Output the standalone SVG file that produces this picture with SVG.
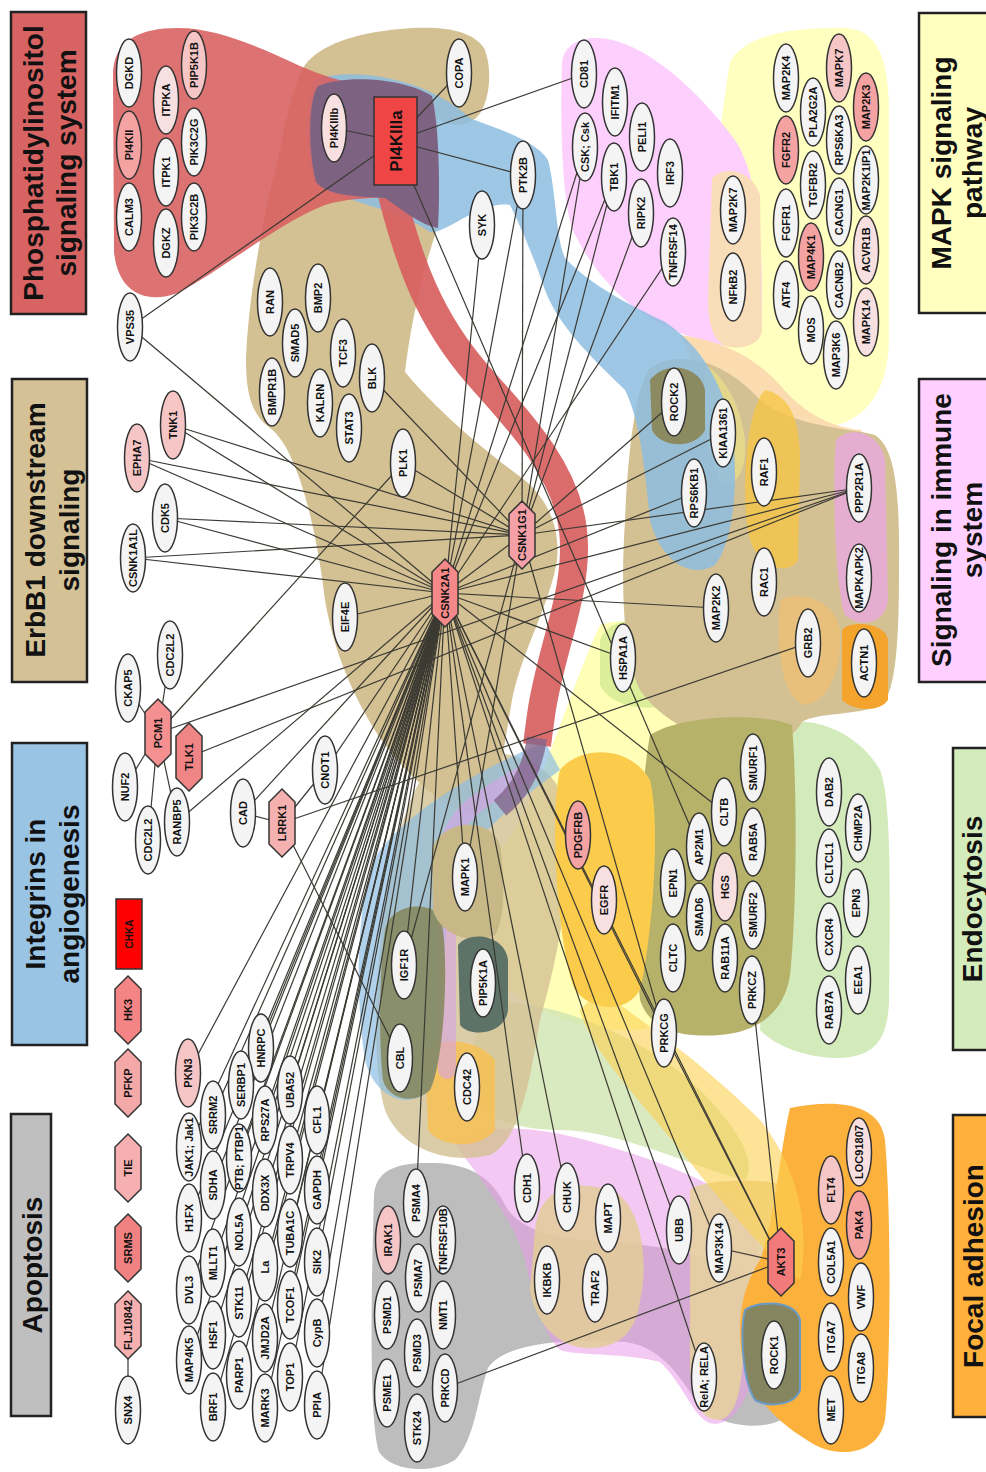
<svg xmlns="http://www.w3.org/2000/svg" width="986" height="1472" viewBox="0 0 986 1472">
<style>
.n{fill:#f4f4f4;stroke:#333;stroke-width:1.5}
.pa{fill:#f8e0e0}.pb{fill:#f6c6c6}.pc{fill:#f5a2a2}.pd{fill:#f28585}.pr{fill:#f04545}.px{fill:#ff0000}
.t{font-family:"Liberation Sans",Arial,sans-serif;font-size:11px;font-weight:bold;fill:#111;text-anchor:middle}
.ttl{font-family:"Liberation Sans",Arial,sans-serif;font-size:28px;font-weight:bold;fill:#111;text-anchor:middle}
.box{stroke:#222;stroke-width:2.5}
.e line{stroke:#3b3a33;stroke-width:1.2}
</style>
<defs>
<polygon id="hex" points="0,-34 13,-21 13,21 0,34 -13,21 -13,-21"/>
</defs>
<rect width="986" height="1472" fill="#fff"/>

<!-- pathway hulls -->
<g id="hulls">
<path d="M374,1195 C376,1168 400,1162 435,1163 C470,1164 492,1178 505,1205 C520,1232 560,1240 610,1242 C670,1245 745,1262 780,1300 C800,1330 798,1400 785,1418 C765,1430 730,1428 705,1412 C685,1390 670,1348 625,1342 C570,1338 505,1342 488,1368 C478,1395 475,1440 455,1460 C432,1474 392,1472 379,1452 C369,1420 371,1300 374,1195 Z" fill="#bdbdbd"/>
<path d="M730,62 C745,35 790,27 845,28 C878,30 888,58 889,110 L889,340 C888,395 862,425 820,428 C775,430 735,405 718,360 C705,310 708,200 730,62 Z" fill="#ffffc0"/>
<path d="M562,62 C565,38 595,32 625,44 C665,60 705,100 735,140 C756,172 762,230 762,300 C762,335 752,348 728,346 C698,342 668,330 640,312 C608,288 585,258 572,228 C562,200 560,120 562,62 Z" fill="#fdcffd"/>
<path d="M712,178 C725,165 752,170 760,195 L762,330 C760,346 740,350 725,346 C712,340 708,320 708,300 Z" fill="#f9dcb8"/>
<path d="M680,335 C715,340 750,352 780,385 C800,410 830,428 862,430 L860,445 C820,450 780,440 750,420 C720,400 695,375 680,335 Z" fill="#fbdcb0"/>
<path d="M455,1145 C470,1125 520,1125 565,1135 C630,1150 700,1175 735,1200 C760,1225 765,1280 762,1320 C758,1380 742,1422 715,1424 C695,1424 685,1385 660,1362 C620,1352 575,1356 560,1350 C540,1330 532,1290 525,1260 C515,1225 490,1190 455,1145 Z" fill="#e99de9" fill-opacity="0.55"/>
<path d="M600,625 C640,610 700,640 745,700 L700,1000 C640,1060 540,1020 490,975 C462,945 468,890 500,850 C540,800 565,700 600,625 Z" fill="#ffffb8"/>
<path d="M600,640 C610,615 645,618 665,630 L668,705 C640,712 610,705 600,685 Z" fill="#dcee9a"/>
<path d="M790,722 C820,718 860,735 880,770 C892,800 890,900 889,1000 C888,1045 870,1058 835,1058 C800,1056 775,1045 760,1030 L770,760 Z" fill="#d3eabb"/>
<path d="M480,1000 C560,1000 650,1040 700,1090 C730,1120 760,1160 745,1180 C700,1170 620,1130 560,1130 C520,1130 480,1120 470,1090 Z" fill="#cfe3b0" fill-opacity="0.8"/>
<path d="M305,65 C320,45 355,33 400,29 C442,25 472,30 484,48 C493,68 490,102 478,116 C466,128 446,127 438,118 L436,232 C420,280 410,330 405,372 C428,400 470,440 522,478 C550,500 560,530 557,560 C550,605 522,650 512,700 C505,740 500,780 490,810 C470,830 420,790 385,745 C360,710 335,660 325,600 C318,540 300,450 270,428 C252,415 246,395 246,360 C248,300 262,220 280,150 C288,110 295,80 305,65 Z" fill="#d3c093"/>
<path d="M648,370 C670,350 720,355 760,400 C795,428 850,428 875,435 C895,448 900,490 899,570 C899,640 896,690 882,705 C855,716 818,712 802,722 C792,740 770,750 740,745 C700,740 660,720 640,690 C625,660 620,600 625,520 C628,450 635,395 648,370 Z" fill="#d3c093"/>
<path d="M836,440 C850,425 880,432 885,460 L888,600 C885,625 860,628 845,615 C835,590 832,480 836,440 Z" fill="#e5aed0"/>
<path d="M765,390 C790,395 800,420 800,460 L798,560 C790,575 760,570 750,540 C740,500 745,410 765,390 Z" fill="#f7c543" fill-opacity="0.75"/>
<path d="M705,365 C720,372 740,400 745,440 C748,470 735,490 720,480 C708,460 702,420 705,365 Z" fill="#e8dc8a" fill-opacity="0.8"/>
<path d="M780,600 C800,590 835,600 840,630 C842,670 830,700 805,705 C785,700 775,660 780,600 Z" fill="#f6c06c" fill-opacity="0.6"/>
<path d="M440,760 C480,745 540,750 560,790 C580,850 560,950 540,1020 C530,1080 520,1140 490,1155 C450,1165 400,1150 385,1110 C370,1060 375,950 390,880 C400,820 415,775 440,760 Z" fill="#d3c093" fill-opacity="0.8"/>
<path d="M650,735 C680,715 760,712 792,725 C798,800 796,920 790,975 C785,1010 760,1032 720,1035 C680,1038 650,1030 640,1000 C635,950 638,800 650,735 Z" fill="#b7b26a"/>
<path d="M535,1230 C540,1185 575,1180 610,1190 C640,1200 650,1260 640,1300 C637,1330 620,1348 590,1348 C555,1348 535,1320 530,1290 Z" fill="#e3cd98" fill-opacity="0.85"/>
<path d="M690,1190 C700,1178 790,1175 800,1195 C808,1240 805,1290 790,1305 C770,1315 750,1310 745,1330 C742,1380 740,1415 720,1420 C700,1420 692,1400 690,1370 Z" fill="#e6cfa0" fill-opacity="0.9"/>
<path d="M790,1108 C830,1100 880,1100 885,1140 C892,1220 890,1380 885,1420 C878,1455 840,1458 815,1445 C790,1430 760,1410 745,1370 C735,1330 740,1290 760,1260 C775,1220 780,1150 790,1108 Z" fill="#fdb13d"/>
<path d="M560,770 C580,745 630,745 650,780 C662,830 650,950 640,990 C625,1015 590,1010 575,990 C560,960 548,820 560,770 Z" fill="#fbcc4c"/>
<path d="M600,990 C640,1020 700,1060 760,1120 C800,1170 810,1230 800,1280 C770,1260 720,1200 680,1150 C640,1100 590,1050 580,1010 Z" fill="#fcd050" fill-opacity="0.6"/>
<path d="M842,630 C850,620 885,622 888,640 L888,700 C880,712 855,712 842,700 Z" fill="#f4a42c"/>
<path d="M425,1050 C440,1035 480,1040 495,1060 L495,1130 C480,1150 440,1148 428,1130 Z" fill="#f9c150" fill-opacity="0.8"/>
<path d="M315,80 C340,68 420,72 470,118 C500,130 535,140 548,160 C556,190 556,240 565,258 C590,285 630,305 665,322 C700,345 720,380 730,420 C740,470 735,540 715,565 C690,580 660,560 650,520 C645,470 640,420 625,390 C600,365 560,330 545,290 C535,260 520,225 510,205 C480,200 445,235 430,232 C400,210 340,200 316,185 C305,160 305,100 315,80 Z" fill="#8dbde2" fill-opacity="0.85"/>
<path d="M545,742 C500,760 420,800 380,850 C355,890 355,1000 365,1060 C375,1100 410,1110 430,1090 C445,1060 440,960 450,900 C460,840 520,800 560,770 Z" fill="#8dbde2" fill-opacity="0.7"/>
<path d="M530,770 C500,790 455,805 447,850 L447,1070" fill="none" stroke="#d9a3e6" stroke-width="18" stroke-opacity="0.6" stroke-linecap="round"/>
<path d="M385,930 C390,905 425,900 440,915 C450,950 445,1060 430,1090 C415,1105 388,1100 383,1080 C378,1040 380,960 385,930 Z" fill="#878a5f" fill-opacity="0.9"/>
<path d="M432,850 C440,820 490,815 500,845 C505,880 505,920 495,935 C470,945 440,935 433,910 Z" fill="#c8b887"/>
<path d="M458,945 C470,930 505,935 508,960 L508,1010 C505,1035 470,1038 460,1025 Z" fill="#5e7367"/>
<path d="M650,380 C665,360 700,365 705,390 L705,430 C695,450 660,448 652,430 Z" fill="#8c8a60"/>
<path d="M745,1310 C760,1300 795,1300 800,1320 L800,1390 C795,1405 770,1408 755,1400 C742,1380 740,1330 745,1310 Z" fill="#858560" stroke="#6a9ac8" stroke-width="2"/>
<path d="M113,75 C113,40 140,28 178,28 C215,28 255,45 300,66 C345,86 400,92 432,108 L436,190 C400,200 355,195 325,205 C280,222 225,268 178,293 C145,305 118,292 114,252 Z" fill="#d85f5f" fill-opacity="0.88"/>
<path d="M392,195 C410,265 430,320 478,375 C520,422 566,470 573,530 C580,590 550,650 541,715 C539,730 538,738 537,745" fill="none" stroke="#d85f5f" stroke-width="28" stroke-opacity="0.92"/>
<path d="M537,738 C533,765 522,790 500,808" fill="none" stroke="#84658c" stroke-width="20" stroke-opacity="0.8"/>
<path d="M318,86 C345,74 405,78 432,96 C440,130 440,200 438,228 C420,225 400,208 385,198 C355,196 328,196 316,182 C308,150 308,100 318,86 Z" fill="#7e6282"/>
</g>

<!-- connectors -->
<g id="edges" class="e">
<line x1="395" y1="141" x2="334" y2="128"/>
<line x1="395" y1="141" x2="459" y2="73"/>
<line x1="395" y1="141" x2="584" y2="74"/>
<line x1="395" y1="141" x2="523" y2="175"/>
<line x1="395" y1="141" x2="130" y2="327"/>
<line x1="395" y1="141" x2="699" y2="847"/>
<line x1="130" y1="327" x2="445" y2="593"/>
<line x1="482" y1="225" x2="445" y2="593"/>
<line x1="523" y1="175" x2="522" y2="535"/>
<line x1="523" y1="175" x2="445" y2="593"/>
<line x1="585" y1="147" x2="522" y2="535"/>
<line x1="585" y1="147" x2="445" y2="593"/>
<line x1="614" y1="177" x2="522" y2="535"/>
<line x1="614" y1="177" x2="445" y2="593"/>
<line x1="641" y1="213" x2="522" y2="535"/>
<line x1="673" y1="252" x2="445" y2="593"/>
<line x1="372" y1="378" x2="522" y2="535"/>
<line x1="403" y1="463" x2="522" y2="535"/>
<line x1="173" y1="425" x2="522" y2="535"/>
<line x1="173" y1="425" x2="445" y2="593"/>
<line x1="137" y1="458" x2="522" y2="535"/>
<line x1="137" y1="458" x2="445" y2="593"/>
<line x1="165" y1="518" x2="522" y2="535"/>
<line x1="165" y1="518" x2="445" y2="593"/>
<line x1="133" y1="558" x2="522" y2="535"/>
<line x1="133" y1="558" x2="445" y2="593"/>
<line x1="345" y1="617" x2="445" y2="593"/>
<line x1="522" y1="535" x2="445" y2="593"/>
<line x1="674" y1="402" x2="522" y2="535"/>
<line x1="723" y1="433" x2="522" y2="535"/>
<line x1="694" y1="493" x2="445" y2="593"/>
<line x1="859" y1="488" x2="522" y2="535"/>
<line x1="859" y1="488" x2="445" y2="593"/>
<line x1="859" y1="488" x2="158" y2="733"/>
<line x1="859" y1="488" x2="189" y2="757"/>
<line x1="716" y1="608" x2="445" y2="593"/>
<line x1="623" y1="658" x2="445" y2="593"/>
<line x1="808" y1="643" x2="282" y2="823"/>
<line x1="158" y1="733" x2="128" y2="688"/>
<line x1="158" y1="733" x2="170" y2="655"/>
<line x1="158" y1="733" x2="125" y2="787"/>
<line x1="158" y1="733" x2="148" y2="840"/>
<line x1="158" y1="733" x2="177" y2="822"/>
<line x1="158" y1="733" x2="403" y2="463"/>
<line x1="177" y1="822" x2="445" y2="593"/>
<line x1="243" y1="813" x2="445" y2="593"/>
<line x1="243" y1="813" x2="282" y2="823"/>
<line x1="325" y1="770" x2="282" y2="823"/>
<line x1="325" y1="770" x2="445" y2="593"/>
<line x1="282" y1="823" x2="400" y2="1058"/>
<line x1="465" y1="877" x2="522" y2="535"/>
<line x1="465" y1="877" x2="445" y2="593"/>
<line x1="404" y1="965" x2="522" y2="535"/>
<line x1="404" y1="965" x2="445" y2="593"/>
<line x1="724" y1="812" x2="445" y2="593"/>
<line x1="664" y1="1033" x2="522" y2="535"/>
<line x1="664" y1="1033" x2="445" y2="593"/>
<line x1="416" y1="1203" x2="445" y2="593"/>
<line x1="527" y1="1188" x2="445" y2="593"/>
<line x1="567" y1="1197" x2="445" y2="593"/>
<line x1="679" y1="1230" x2="445" y2="593"/>
<line x1="719" y1="1248" x2="445" y2="593"/>
<line x1="704" y1="1377" x2="445" y2="593"/>
<line x1="781" y1="1262" x2="445" y2="593"/>
<line x1="781" y1="1262" x2="752" y2="990"/>
<line x1="781" y1="1262" x2="664" y2="1033"/>
<line x1="781" y1="1262" x2="719" y2="1248"/>
<line x1="781" y1="1262" x2="445" y2="1388"/>
<line x1="128" y1="1325" x2="128" y2="1410"/>
<line x1="188" y1="1073" x2="445" y2="593"/>
<line x1="261" y1="1048" x2="445" y2="593"/>
<line x1="241" y1="1085" x2="445" y2="593"/>
<line x1="213" y1="1115" x2="445" y2="593"/>
<line x1="265" y1="1120" x2="445" y2="593"/>
<line x1="290" y1="1090" x2="445" y2="593"/>
<line x1="317" y1="1120" x2="445" y2="593"/>
<line x1="189" y1="1147" x2="445" y2="593"/>
<line x1="239" y1="1158" x2="445" y2="593"/>
<line x1="213" y1="1185" x2="445" y2="593"/>
<line x1="265" y1="1193" x2="445" y2="593"/>
<line x1="290" y1="1160" x2="445" y2="593"/>
<line x1="317" y1="1190" x2="445" y2="593"/>
<line x1="189" y1="1218" x2="445" y2="593"/>
<line x1="239" y1="1232" x2="445" y2="593"/>
<line x1="213" y1="1263" x2="445" y2="593"/>
<line x1="265" y1="1267" x2="445" y2="593"/>
<line x1="290" y1="1233" x2="445" y2="593"/>
<line x1="317" y1="1262" x2="445" y2="593"/>
<line x1="189" y1="1290" x2="445" y2="593"/>
<line x1="239" y1="1303" x2="445" y2="593"/>
<line x1="213" y1="1335" x2="445" y2="593"/>
<line x1="265" y1="1338" x2="445" y2="593"/>
<line x1="290" y1="1305" x2="445" y2="593"/>
<line x1="317" y1="1333" x2="445" y2="593"/>
<line x1="189" y1="1360" x2="445" y2="593"/>
<line x1="239" y1="1375" x2="445" y2="593"/>
<line x1="213" y1="1407" x2="445" y2="593"/>
<line x1="265" y1="1408" x2="445" y2="593"/>
<line x1="290" y1="1377" x2="445" y2="593"/>
<line x1="317" y1="1405" x2="445" y2="593"/>
</g>

<!-- pathway title boxes -->
<g id="titles">
<g id="ttl-pi"><rect class="box" x="11" y="12" width="75" height="302" fill="#d86363"/><text class="ttl" transform="translate(48.5,163) rotate(-90)" y="-6">Phosphatidylinositol</text><text class="ttl" transform="translate(48.5,163) rotate(-90)" y="27">signaling system</text></g>
<g id="ttl-erbb"><rect class="box" x="12" y="379" width="75" height="303" fill="#d4c196"/><text class="ttl" transform="translate(49.5,530) rotate(-90)" y="-5">ErbB1 downstream</text><text class="ttl" transform="translate(49.5,530) rotate(-90)" y="29">signaling</text></g>
<g id="ttl-int"><rect class="box" x="12" y="743" width="75" height="302" fill="#99c4e4"/><text class="ttl" transform="translate(49.5,894) rotate(-90)" y="-5">Integrins in</text><text class="ttl" transform="translate(49.5,894) rotate(-90)" y="29">angiogenesis</text></g>
<g id="ttl-apo"><rect class="box" x="11" y="1114" width="40" height="302" fill="#bfbfbf"/><text class="ttl" transform="translate(31,1265) rotate(-90)" y="11">Apoptosis</text></g>
<g id="ttl-mapk"><rect class="box" x="919" y="13" width="76" height="300" fill="#ffffc0"/><text class="ttl" transform="translate(956.5,163) rotate(-90)" y="-6">MAPK signaling</text><text class="ttl" transform="translate(956.5,163) rotate(-90)" y="25">pathway</text></g>
<g id="ttl-imm"><rect class="box" x="919" y="379" width="76" height="303" fill="#ffd0ff"/><text class="ttl" transform="translate(956.5,530) rotate(-90)" y="-6">Signaling in immune</text><text class="ttl" transform="translate(956.5,530) rotate(-90)" y="25">system</text></g>
<g id="ttl-endo"><rect class="box" x="953" y="748" width="42" height="302" fill="#d4ebbc"/><text class="ttl" transform="translate(973.5,899) rotate(-90)" y="8">Endocytosis</text></g>
<g id="ttl-fa"><rect class="box" x="953" y="1115" width="42" height="302" fill="#ffb13c"/><text class="ttl" transform="translate(973.5,1266) rotate(-90)" y="9">Focal adhesion</text></g>
</g>

<!-- nodes -->
<g id="nodes">
<g id="n-DGKD" transform="translate(129,73)"><ellipse class="n" rx="12.5" ry="34"/><text class="t" transform="rotate(-90)" y="4">DGKD</text></g>
<g id="n-PI4KII" transform="translate(129,145)"><ellipse class="n pc" rx="12.5" ry="34"/><text class="t" transform="rotate(-90)" y="4">PI4KII</text></g>
<g id="n-CALM3" transform="translate(129,217)"><ellipse class="n" rx="12.5" ry="34"/><text class="t" transform="rotate(-90)" y="4">CALM3</text></g>
<g id="n-ITPKA" transform="translate(166,100)"><ellipse class="n pa" rx="12.5" ry="34"/><text class="t" transform="rotate(-90)" y="4">ITPKA</text></g>
<g id="n-ITPK1" transform="translate(166,172)"><ellipse class="n" rx="12.5" ry="34"/><text class="t" transform="rotate(-90)" y="4">ITPK1</text></g>
<g id="n-DGKZ" transform="translate(166,243)"><ellipse class="n" rx="12.5" ry="34"/><text class="t" transform="rotate(-90)" y="4">DGKZ</text></g>
<g id="n-PIP5K1B" transform="translate(194,65)"><ellipse class="n pb" rx="12.5" ry="34"/><text class="t" transform="rotate(-90)" y="4">PIP5K1B</text></g>
<g id="n-PIK3C2G" transform="translate(194,142)"><ellipse class="n" rx="12.5" ry="34"/><text class="t" transform="rotate(-90)" y="4">PIK3C2G</text></g>
<g id="n-PIK3C2B" transform="translate(194,217)"><ellipse class="n" rx="12.5" ry="34"/><text class="t" transform="rotate(-90)" y="4">PIK3C2B</text></g>
<g id="n-VPS35" transform="translate(130,327)"><ellipse class="n" rx="12.5" ry="34"/><text class="t" transform="rotate(-90)" y="4">VPS35</text></g>
<g id="n-PI4KIIIb" transform="translate(334,128)"><ellipse class="n pa" rx="12.5" ry="34"/><text class="t" transform="rotate(-90)" y="4">PI4KIIIb</text></g>
<g id="n-PI4KIIIa"><rect class="n pr" x="374" y="97" width="43" height="88"/><text class="t" transform="translate(395.5,141) rotate(-90)" y="6" style="font-size:17px">PI4KIIIa</text></g>
<g id="n-COPA" transform="translate(459,73)"><ellipse class="n" rx="12.5" ry="34"/><text class="t" transform="rotate(-90)" y="4">COPA</text></g>
<g id="n-CD81" transform="translate(584,74)"><ellipse class="n" rx="12.5" ry="34"/><text class="t" transform="rotate(-90)" y="4">CD81</text></g>
<g id="n-CSK" transform="translate(585,147)"><ellipse class="n" rx="12.5" ry="34"/><text class="t" transform="rotate(-90)" y="4">CSK; Csk</text></g>
<g id="n-IFITM1" transform="translate(615,102)"><ellipse class="n" rx="12.5" ry="34"/><text class="t" transform="rotate(-90)" y="4">IFITM1</text></g>
<g id="n-PELI1" transform="translate(642,137)"><ellipse class="n" rx="12.5" ry="34"/><text class="t" transform="rotate(-90)" y="4">PELI1</text></g>
<g id="n-TBK1" transform="translate(614,177)"><ellipse class="n" rx="12.5" ry="34"/><text class="t" transform="rotate(-90)" y="4">TBK1</text></g>
<g id="n-RIPK2" transform="translate(641,213)"><ellipse class="n" rx="12.5" ry="34"/><text class="t" transform="rotate(-90)" y="4">RIPK2</text></g>
<g id="n-IRF3" transform="translate(670,173)"><ellipse class="n" rx="12.5" ry="34"/><text class="t" transform="rotate(-90)" y="4">IRF3</text></g>
<g id="n-TNFRSF14" transform="translate(673,252)"><ellipse class="n" rx="12.5" ry="34"/><text class="t" transform="rotate(-90)" y="4">TNFRSF14</text></g>
<g id="n-SYK" transform="translate(482,225)"><ellipse class="n" rx="12.5" ry="34"/><text class="t" transform="rotate(-90)" y="4">SYK</text></g>
<g id="n-PTK2B" transform="translate(523,175)"><ellipse class="n" rx="12.5" ry="34"/><text class="t" transform="rotate(-90)" y="4">PTK2B</text></g>
<g id="n-MAP2K7" transform="translate(733,210)"><ellipse class="n" rx="12.5" ry="34"/><text class="t" transform="rotate(-90)" y="4">MAP2K7</text></g>
<g id="n-NFkB2" transform="translate(733,287)"><ellipse class="n" rx="12.5" ry="34"/><text class="t" transform="rotate(-90)" y="4">NFkB2</text></g>
<g id="n-MAP2K4" transform="translate(786,78)"><ellipse class="n" rx="12.5" ry="34"/><text class="t" transform="rotate(-90)" y="4">MAP2K4</text></g>
<g id="n-FGFR2" transform="translate(786,150)"><ellipse class="n pc" rx="12.5" ry="34"/><text class="t" transform="rotate(-90)" y="4">FGFR2</text></g>
<g id="n-FGFR1" transform="translate(786,223)"><ellipse class="n" rx="12.5" ry="34"/><text class="t" transform="rotate(-90)" y="4">FGFR1</text></g>
<g id="n-ATF4" transform="translate(786,295)"><ellipse class="n" rx="12.5" ry="34"/><text class="t" transform="rotate(-90)" y="4">ATF4</text></g>
<g id="n-PLA2G2A" transform="translate(813,112)"><ellipse class="n" rx="12.5" ry="34"/><text class="t" transform="rotate(-90)" y="4">PLA2G2A</text></g>
<g id="n-TGFBR2" transform="translate(813,185)"><ellipse class="n" rx="12.5" ry="34"/><text class="t" transform="rotate(-90)" y="4">TGFBR2</text></g>
<g id="n-MAP4K1" transform="translate(811,257)"><ellipse class="n pc" rx="12.5" ry="34"/><text class="t" transform="rotate(-90)" y="4">MAP4K1</text></g>
<g id="n-MOS" transform="translate(811,330)"><ellipse class="n" rx="12.5" ry="34"/><text class="t" transform="rotate(-90)" y="4">MOS</text></g>
<g id="n-MAPK7" transform="translate(839,68)"><ellipse class="n pb" rx="12.5" ry="34"/><text class="t" transform="rotate(-90)" y="4">MAPK7</text></g>
<g id="n-RPS6KA3" transform="translate(839,140)"><ellipse class="n" rx="12.5" ry="34"/><text class="t" transform="rotate(-90)" y="4">RPS6KA3</text></g>
<g id="n-CACNG1" transform="translate(839,212)"><ellipse class="n" rx="12.5" ry="34"/><text class="t" transform="rotate(-90)" y="4">CACNG1</text></g>
<g id="n-CACNB2" transform="translate(839,285)"><ellipse class="n" rx="12.5" ry="34"/><text class="t" transform="rotate(-90)" y="4">CACNB2</text></g>
<g id="n-MAP3K6" transform="translate(836,355)"><ellipse class="n" rx="12.5" ry="34"/><text class="t" transform="rotate(-90)" y="4">MAP3K6</text></g>
<g id="n-MAP2K3" transform="translate(866,107)"><ellipse class="n pc" rx="12.5" ry="34"/><text class="t" transform="rotate(-90)" y="4">MAP2K3</text></g>
<g id="n-MAP2K1IP1" transform="translate(866,180)"><ellipse class="n" rx="12.5" ry="34"/><text class="t" transform="rotate(-90)" y="4">MAP2K1IP1</text></g>
<g id="n-ACVR1B" transform="translate(866,250)"><ellipse class="n pa" rx="12.5" ry="34"/><text class="t" transform="rotate(-90)" y="4">ACVR1B</text></g>
<g id="n-MAPK14" transform="translate(866,322)"><ellipse class="n pa" rx="12.5" ry="34"/><text class="t" transform="rotate(-90)" y="4">MAPK14</text></g>
<g id="n-RAN" transform="translate(270,302)"><ellipse class="n" rx="12.5" ry="34"/><text class="t" transform="rotate(-90)" y="4">RAN</text></g>
<g id="n-BMP2" transform="translate(318,298)"><ellipse class="n" rx="12.5" ry="34"/><text class="t" transform="rotate(-90)" y="4">BMP2</text></g>
<g id="n-SMAD5" transform="translate(295,343)"><ellipse class="n" rx="12.5" ry="34"/><text class="t" transform="rotate(-90)" y="4">SMAD5</text></g>
<g id="n-TCF3" transform="translate(343,353)"><ellipse class="n" rx="12.5" ry="34"/><text class="t" transform="rotate(-90)" y="4">TCF3</text></g>
<g id="n-BMPR1B" transform="translate(272,392)"><ellipse class="n" rx="12.5" ry="34"/><text class="t" transform="rotate(-90)" y="4">BMPR1B</text></g>
<g id="n-KALRN" transform="translate(320,403)"><ellipse class="n" rx="12.5" ry="34"/><text class="t" transform="rotate(-90)" y="4">KALRN</text></g>
<g id="n-BLK" transform="translate(372,378)"><ellipse class="n" rx="12.5" ry="34"/><text class="t" transform="rotate(-90)" y="4">BLK</text></g>
<g id="n-STAT3" transform="translate(349,428)"><ellipse class="n" rx="12.5" ry="34"/><text class="t" transform="rotate(-90)" y="4">STAT3</text></g>
<g id="n-PLK1" transform="translate(403,463)"><ellipse class="n" rx="12.5" ry="34"/><text class="t" transform="rotate(-90)" y="4">PLK1</text></g>
<g id="n-TNK1" transform="translate(173,425)"><ellipse class="n pb" rx="12.5" ry="34"/><text class="t" transform="rotate(-90)" y="4">TNK1</text></g>
<g id="n-EPHA7" transform="translate(137,458)"><ellipse class="n pb" rx="12.5" ry="34"/><text class="t" transform="rotate(-90)" y="4">EPHA7</text></g>
<g id="n-CDK5" transform="translate(165,518)"><ellipse class="n" rx="12.5" ry="34"/><text class="t" transform="rotate(-90)" y="4">CDK5</text></g>
<g id="n-CSNK1A1L" transform="translate(133,558)"><ellipse class="n" rx="12.5" ry="34"/><text class="t" transform="rotate(-90)" y="4">CSNK1A1L</text></g>
<g id="n-CDC2L2a" transform="translate(170,655)"><ellipse class="n" rx="12.5" ry="34"/><text class="t" transform="rotate(-90)" y="4">CDC2L2</text></g>
<g id="n-CKAP5" transform="translate(128,688)"><ellipse class="n" rx="12.5" ry="34"/><text class="t" transform="rotate(-90)" y="4">CKAP5</text></g>
<g id="n-EIF4E" transform="translate(345,617)"><ellipse class="n" rx="12.5" ry="34"/><text class="t" transform="rotate(-90)" y="4">EIF4E</text></g>
<g id="n-HSPA1A" transform="translate(623,658)"><ellipse class="n" rx="12.5" ry="34"/><text class="t" transform="rotate(-90)" y="4">HSPA1A</text></g>
<g id="n-CSNK1G1" transform="translate(522,535)"><use href="#hex" class="n" style="fill:#f5a0a6"/><text class="t" transform="rotate(-90)" y="4">CSNK1G1</text></g>
<g id="n-CSNK2A1" transform="translate(445,593)"><use href="#hex" class="n" style="fill:#f58888"/><text class="t" transform="rotate(-90)" y="4">CSNK2A1</text></g>
<g id="n-PCM1" transform="translate(158,733)"><use href="#hex" class="n" style="fill:#f59090"/><text class="t" transform="rotate(-90)" y="4">PCM1</text></g>
<g id="n-TLK1" transform="translate(189,757)"><use href="#hex" class="n" style="fill:#f08585"/><text class="t" transform="rotate(-90)" y="4">TLK1</text></g>
<g id="n-NUF2" transform="translate(125,787)"><ellipse class="n" rx="12.5" ry="34"/><text class="t" transform="rotate(-90)" y="4">NUF2</text></g>
<g id="n-CDC2L2b" transform="translate(148,840)"><ellipse class="n" rx="12.5" ry="34"/><text class="t" transform="rotate(-90)" y="4">CDC2L2</text></g>
<g id="n-RANBP5" transform="translate(177,822)"><ellipse class="n" rx="12.5" ry="34"/><text class="t" transform="rotate(-90)" y="4">RANBP5</text></g>
<g id="n-CAD" transform="translate(243,813)"><ellipse class="n" rx="12.5" ry="34"/><text class="t" transform="rotate(-90)" y="4">CAD</text></g>
<g id="n-LRRK1" transform="translate(282,823)"><use href="#hex" class="n" style="fill:#f5b0b0"/><text class="t" transform="rotate(-90)" y="4">LRRK1</text></g>
<g id="n-CNOT1" transform="translate(325,770)"><ellipse class="n" rx="12.5" ry="34"/><text class="t" transform="rotate(-90)" y="4">CNOT1</text></g>
<g id="n-CHKA"><rect class="n px" x="116" y="899" width="26" height="70"/><text class="t" transform="translate(129,934) rotate(-90)" y="4" style="font-size:10px">CHKA</text></g>
<g id="n-HK3" transform="translate(128,1010)"><use href="#hex" class="n" style="fill:#f58484"/><text class="t" transform="rotate(-90)" y="4">HK3</text></g>
<g id="n-PFKP" transform="translate(128,1083)"><use href="#hex" class="n" style="fill:#f5a8a8"/><text class="t" transform="rotate(-90)" y="4">PFKP</text></g>
<g id="n-TIE" transform="translate(128,1168)"><use href="#hex" class="n" style="fill:#f7b0b0"/><text class="t" transform="rotate(-90)" y="4">TIE</text></g>
<g id="n-SRMS" transform="translate(128,1248)"><use href="#hex" class="n" style="fill:#f28282"/><text class="t" transform="rotate(-90)" y="4">SRMS</text></g>
<g id="n-FLJ10842" transform="translate(128,1325)"><use href="#hex" class="n" style="fill:#f6b0b0"/><text class="t" transform="rotate(-90)" y="4">FLJ10842</text></g>
<g id="n-SNX4" transform="translate(128,1410)"><ellipse class="n" rx="12.5" ry="34"/><text class="t" transform="rotate(-90)" y="4">SNX4</text></g>
<g id="n-PKN3" transform="translate(188,1073)"><ellipse class="n pb" rx="12.5" ry="34"/><text class="t" transform="rotate(-90)" y="4">PKN3</text></g>
<g id="n-HNRPC" transform="translate(261,1048)"><ellipse class="n" rx="12.5" ry="34"/><text class="t" transform="rotate(-90)" y="4">HNRPC</text></g>
<g id="n-SERBP1" transform="translate(241,1085)"><ellipse class="n" rx="12.5" ry="34"/><text class="t" transform="rotate(-90)" y="4">SERBP1</text></g>
<g id="n-UBA52" transform="translate(290,1090)"><ellipse class="n" rx="12.5" ry="34"/><text class="t" transform="rotate(-90)" y="4">UBA52</text></g>
<g id="n-SRRM2" transform="translate(213,1115)"><ellipse class="n" rx="12.5" ry="34"/><text class="t" transform="rotate(-90)" y="4">SRRM2</text></g>
<g id="n-RPS27A" transform="translate(265,1120)"><ellipse class="n" rx="12.5" ry="34"/><text class="t" transform="rotate(-90)" y="4">RPS27A</text></g>
<g id="n-CFL1" transform="translate(317,1120)"><ellipse class="n" rx="12.5" ry="34"/><text class="t" transform="rotate(-90)" y="4">CFL1</text></g>
<g id="n-JAK1" transform="translate(189,1147)"><ellipse class="n" rx="12.5" ry="34"/><text class="t" transform="rotate(-90)" y="4">JAK1; Jak1</text></g>
<g id="n-PTB" transform="translate(239,1158)"><ellipse class="n" rx="12.5" ry="34"/><text class="t" transform="rotate(-90)" y="4">PTB; PTBP1</text></g>
<g id="n-TRPV4" transform="translate(290,1160)"><ellipse class="n" rx="12.5" ry="34"/><text class="t" transform="rotate(-90)" y="4">TRPV4</text></g>
<g id="n-SDHA" transform="translate(213,1185)"><ellipse class="n" rx="12.5" ry="34"/><text class="t" transform="rotate(-90)" y="4">SDHA</text></g>
<g id="n-GAPDH" transform="translate(317,1190)"><ellipse class="n" rx="12.5" ry="34"/><text class="t" transform="rotate(-90)" y="4">GAPDH</text></g>
<g id="n-DDX3X" transform="translate(265,1193)"><ellipse class="n" rx="12.5" ry="34"/><text class="t" transform="rotate(-90)" y="4">DDX3X</text></g>
<g id="n-H1FX" transform="translate(189,1218)"><ellipse class="n" rx="12.5" ry="34"/><text class="t" transform="rotate(-90)" y="4">H1FX</text></g>
<g id="n-NOL5A" transform="translate(239,1232)"><ellipse class="n" rx="12.5" ry="34"/><text class="t" transform="rotate(-90)" y="4">NOL5A</text></g>
<g id="n-TUBA1C" transform="translate(290,1233)"><ellipse class="n" rx="12.5" ry="34"/><text class="t" transform="rotate(-90)" y="4">TUBA1C</text></g>
<g id="n-MLLT1" transform="translate(213,1263)"><ellipse class="n" rx="12.5" ry="34"/><text class="t" transform="rotate(-90)" y="4">MLLT1</text></g>
<g id="n-SIK2" transform="translate(317,1262)"><ellipse class="n" rx="12.5" ry="34"/><text class="t" transform="rotate(-90)" y="4">SIK2</text></g>
<g id="n-La" transform="translate(265,1267)"><ellipse class="n" rx="12.5" ry="34"/><text class="t" transform="rotate(-90)" y="4">La</text></g>
<g id="n-DVL3" transform="translate(189,1290)"><ellipse class="n" rx="12.5" ry="34"/><text class="t" transform="rotate(-90)" y="4">DVL3</text></g>
<g id="n-STK11" transform="translate(239,1303)"><ellipse class="n" rx="12.5" ry="34"/><text class="t" transform="rotate(-90)" y="4">STK11</text></g>
<g id="n-TCOF1" transform="translate(290,1305)"><ellipse class="n" rx="12.5" ry="34"/><text class="t" transform="rotate(-90)" y="4">TCOF1</text></g>
<g id="n-CypB" transform="translate(317,1333)"><ellipse class="n" rx="12.5" ry="34"/><text class="t" transform="rotate(-90)" y="4">CypB</text></g>
<g id="n-HSF1" transform="translate(213,1335)"><ellipse class="n" rx="12.5" ry="34"/><text class="t" transform="rotate(-90)" y="4">HSF1</text></g>
<g id="n-JMJD2A" transform="translate(265,1338)"><ellipse class="n" rx="12.5" ry="34"/><text class="t" transform="rotate(-90)" y="4">JMJD2A</text></g>
<g id="n-MAP4K5" transform="translate(189,1360)"><ellipse class="n" rx="12.5" ry="34"/><text class="t" transform="rotate(-90)" y="4">MAP4K5</text></g>
<g id="n-PARP1" transform="translate(239,1375)"><ellipse class="n" rx="12.5" ry="34"/><text class="t" transform="rotate(-90)" y="4">PARP1</text></g>
<g id="n-TOP1" transform="translate(290,1377)"><ellipse class="n" rx="12.5" ry="34"/><text class="t" transform="rotate(-90)" y="4">TOP1</text></g>
<g id="n-PPIA" transform="translate(317,1405)"><ellipse class="n" rx="12.5" ry="34"/><text class="t" transform="rotate(-90)" y="4">PPIA</text></g>
<g id="n-BRF1" transform="translate(213,1407)"><ellipse class="n" rx="12.5" ry="34"/><text class="t" transform="rotate(-90)" y="4">BRF1</text></g>
<g id="n-MARK3" transform="translate(265,1408)"><ellipse class="n" rx="12.5" ry="34"/><text class="t" transform="rotate(-90)" y="4">MARK3</text></g>
<g id="n-ROCK2" transform="translate(674,402)"><ellipse class="n" rx="12.5" ry="34"/><text class="t" transform="rotate(-90)" y="4">ROCK2</text></g>
<g id="n-KIAA1361" transform="translate(723,433)"><ellipse class="n" rx="12.5" ry="34"/><text class="t" transform="rotate(-90)" y="4">KIAA1361</text></g>
<g id="n-RPS6KB1" transform="translate(694,493)"><ellipse class="n" rx="12.5" ry="34"/><text class="t" transform="rotate(-90)" y="4">RPS6KB1</text></g>
<g id="n-RAF1" transform="translate(764,472)"><ellipse class="n" rx="12.5" ry="34"/><text class="t" transform="rotate(-90)" y="4">RAF1</text></g>
<g id="n-PPP2R1A" transform="translate(859,488)"><ellipse class="n" rx="12.5" ry="34"/><text class="t" transform="rotate(-90)" y="4">PPP2R1A</text></g>
<g id="n-RAC1" transform="translate(764,582)"><ellipse class="n" rx="12.5" ry="34"/><text class="t" transform="rotate(-90)" y="4">RAC1</text></g>
<g id="n-MAPKAPK2" transform="translate(859,578)"><ellipse class="n" rx="12.5" ry="34"/><text class="t" transform="rotate(-90)" y="4">MAPKAPK2</text></g>
<g id="n-MAP2K2" transform="translate(716,608)"><ellipse class="n" rx="12.5" ry="34"/><text class="t" transform="rotate(-90)" y="4">MAP2K2</text></g>
<g id="n-GRB2" transform="translate(808,643)"><ellipse class="n" rx="12.5" ry="34"/><text class="t" transform="rotate(-90)" y="4">GRB2</text></g>
<g id="n-ACTN1" transform="translate(864,663)"><ellipse class="n" rx="12.5" ry="34"/><text class="t" transform="rotate(-90)" y="4">ACTN1</text></g>
<g id="n-MAPK1" transform="translate(465,877)"><ellipse class="n" rx="12.5" ry="34"/><text class="t" transform="rotate(-90)" y="4">MAPK1</text></g>
<g id="n-IGF1R" transform="translate(404,965)"><ellipse class="n" rx="12.5" ry="34"/><text class="t" transform="rotate(-90)" y="4">IGF1R</text></g>
<g id="n-CBL" transform="translate(400,1058)"><ellipse class="n" rx="12.5" ry="34"/><text class="t" transform="rotate(-90)" y="4">CBL</text></g>
<g id="n-PIP5K1A" transform="translate(483,983)"><ellipse class="n" rx="12.5" ry="34"/><text class="t" transform="rotate(-90)" y="4">PIP5K1A</text></g>
<g id="n-PDGFRB" transform="translate(578,835)"><ellipse class="n pc" rx="12.5" ry="34"/><text class="t" transform="rotate(-90)" y="4">PDGFRB</text></g>
<g id="n-EGFR" transform="translate(604,900)"><ellipse class="n pa" rx="12.5" ry="34"/><text class="t" transform="rotate(-90)" y="4">EGFR</text></g>
<g id="n-CDC42" transform="translate(467,1087)"><ellipse class="n" rx="12.5" ry="34"/><text class="t" transform="rotate(-90)" y="4">CDC42</text></g>
<g id="n-SMURF1" transform="translate(753,768)"><ellipse class="n" rx="12.5" ry="34"/><text class="t" transform="rotate(-90)" y="4">SMURF1</text></g>
<g id="n-CLTB" transform="translate(724,812)"><ellipse class="n" rx="12.5" ry="34"/><text class="t" transform="rotate(-90)" y="4">CLTB</text></g>
<g id="n-AP2M1" transform="translate(699,847)"><ellipse class="n" rx="12.5" ry="34"/><text class="t" transform="rotate(-90)" y="4">AP2M1</text></g>
<g id="n-RAB5A" transform="translate(753,842)"><ellipse class="n" rx="12.5" ry="34"/><text class="t" transform="rotate(-90)" y="4">RAB5A</text></g>
<g id="n-EPN1" transform="translate(673,883)"><ellipse class="n" rx="12.5" ry="34"/><text class="t" transform="rotate(-90)" y="4">EPN1</text></g>
<g id="n-HGS" transform="translate(725,887)"><ellipse class="n pa" rx="12.5" ry="34"/><text class="t" transform="rotate(-90)" y="4">HGS</text></g>
<g id="n-SMURF2" transform="translate(753,915)"><ellipse class="n" rx="12.5" ry="34"/><text class="t" transform="rotate(-90)" y="4">SMURF2</text></g>
<g id="n-SMAD6" transform="translate(699,917)"><ellipse class="n" rx="12.5" ry="34"/><text class="t" transform="rotate(-90)" y="4">SMAD6</text></g>
<g id="n-CLTC" transform="translate(673,958)"><ellipse class="n" rx="12.5" ry="34"/><text class="t" transform="rotate(-90)" y="4">CLTC</text></g>
<g id="n-RAB11A" transform="translate(725,958)"><ellipse class="n" rx="12.5" ry="34"/><text class="t" transform="rotate(-90)" y="4">RAB11A</text></g>
<g id="n-PRKCZ" transform="translate(752,990)"><ellipse class="n" rx="12.5" ry="34"/><text class="t" transform="rotate(-90)" y="4">PRKCZ</text></g>
<g id="n-PRKCG" transform="translate(664,1033)"><ellipse class="n" rx="12.5" ry="34"/><text class="t" transform="rotate(-90)" y="4">PRKCG</text></g>
<g id="n-DAB2" transform="translate(829,792)"><ellipse class="n" rx="12.5" ry="34"/><text class="t" transform="rotate(-90)" y="4">DAB2</text></g>
<g id="n-CHMP2A" transform="translate(858,828)"><ellipse class="n" rx="12.5" ry="34"/><text class="t" transform="rotate(-90)" y="4">CHMP2A</text></g>
<g id="n-CLTCL1" transform="translate(829,863)"><ellipse class="n" rx="12.5" ry="34"/><text class="t" transform="rotate(-90)" y="4">CLTCL1</text></g>
<g id="n-EPN3" transform="translate(856,903)"><ellipse class="n" rx="12.5" ry="34"/><text class="t" transform="rotate(-90)" y="4">EPN3</text></g>
<g id="n-CXCR4" transform="translate(829,937)"><ellipse class="n" rx="12.5" ry="34"/><text class="t" transform="rotate(-90)" y="4">CXCR4</text></g>
<g id="n-EEA1" transform="translate(858,980)"><ellipse class="n" rx="12.5" ry="34"/><text class="t" transform="rotate(-90)" y="4">EEA1</text></g>
<g id="n-RAB7A" transform="translate(829,1010)"><ellipse class="n" rx="12.5" ry="34"/><text class="t" transform="rotate(-90)" y="4">RAB7A</text></g>
<g id="n-PSMA4" transform="translate(416,1203)"><ellipse class="n" rx="12.5" ry="34"/><text class="t" transform="rotate(-90)" y="4">PSMA4</text></g>
<g id="n-IRAK1" transform="translate(388,1240)"><ellipse class="n pb" rx="12.5" ry="34"/><text class="t" transform="rotate(-90)" y="4">IRAK1</text></g>
<g id="n-TNFRSF10B" transform="translate(443,1240)"><ellipse class="n" rx="12.5" ry="34"/><text class="t" transform="rotate(-90)" y="4">TNFRSF10B</text></g>
<g id="n-PSMA7" transform="translate(418,1278)"><ellipse class="n" rx="12.5" ry="34"/><text class="t" transform="rotate(-90)" y="4">PSMA7</text></g>
<g id="n-PSMD1" transform="translate(387,1315)"><ellipse class="n" rx="12.5" ry="34"/><text class="t" transform="rotate(-90)" y="4">PSMD1</text></g>
<g id="n-NMT1" transform="translate(443,1315)"><ellipse class="n" rx="12.5" ry="34"/><text class="t" transform="rotate(-90)" y="4">NMT1</text></g>
<g id="n-PSMD3" transform="translate(417,1353)"><ellipse class="n" rx="12.5" ry="34"/><text class="t" transform="rotate(-90)" y="4">PSMD3</text></g>
<g id="n-PSME1" transform="translate(387,1393)"><ellipse class="n" rx="12.5" ry="34"/><text class="t" transform="rotate(-90)" y="4">PSME1</text></g>
<g id="n-PRKCD" transform="translate(445,1388)"><ellipse class="n" rx="12.5" ry="34"/><text class="t" transform="rotate(-90)" y="4">PRKCD</text></g>
<g id="n-STK24" transform="translate(417,1428)"><ellipse class="n" rx="12.5" ry="34"/><text class="t" transform="rotate(-90)" y="4">STK24</text></g>
<g id="n-CDH1" transform="translate(527,1188)"><ellipse class="n" rx="12.5" ry="34"/><text class="t" transform="rotate(-90)" y="4">CDH1</text></g>
<g id="n-CHUK" transform="translate(567,1197)"><ellipse class="n" rx="12.5" ry="34"/><text class="t" transform="rotate(-90)" y="4">CHUK</text></g>
<g id="n-MAPT" transform="translate(608,1218)"><ellipse class="n" rx="12.5" ry="34"/><text class="t" transform="rotate(-90)" y="4">MAPT</text></g>
<g id="n-IKBKB" transform="translate(547,1280)"><ellipse class="n" rx="12.5" ry="34"/><text class="t" transform="rotate(-90)" y="4">IKBKB</text></g>
<g id="n-TRAF2" transform="translate(595,1288)"><ellipse class="n" rx="12.5" ry="34"/><text class="t" transform="rotate(-90)" y="4">TRAF2</text></g>
<g id="n-UBB" transform="translate(679,1230)"><ellipse class="n" rx="12.5" ry="34"/><text class="t" transform="rotate(-90)" y="4">UBB</text></g>
<g id="n-MAP3K14" transform="translate(719,1248)"><ellipse class="n" rx="12.5" ry="34"/><text class="t" transform="rotate(-90)" y="4">MAP3K14</text></g>
<g id="n-AKT3" transform="translate(781,1262)"><use href="#hex" class="n" style="fill:#f27a7a"/><text class="t" transform="rotate(-90)" y="4">AKT3</text></g>
<g id="n-RelA" transform="translate(704,1377)"><ellipse class="n" rx="12.5" ry="34"/><text class="t" transform="rotate(-90)" y="4">RelA; RELA</text></g>
<g id="n-ROCK1" transform="translate(774,1355)"><ellipse class="n" rx="12.5" ry="34"/><text class="t" transform="rotate(-90)" y="4">ROCK1</text></g>
<g id="n-FLT4" transform="translate(831,1190)"><ellipse class="n pb" rx="12.5" ry="34"/><text class="t" transform="rotate(-90)" y="4">FLT4</text></g>
<g id="n-LOC91807" transform="translate(859,1152)"><ellipse class="n pa" rx="12.5" ry="34"/><text class="t" transform="rotate(-90)" y="4">LOC91807</text></g>
<g id="n-PAK4" transform="translate(859,1225)"><ellipse class="n pc" rx="12.5" ry="34"/><text class="t" transform="rotate(-90)" y="4">PAK4</text></g>
<g id="n-COL5A1" transform="translate(831,1262)"><ellipse class="n" rx="12.5" ry="34"/><text class="t" transform="rotate(-90)" y="4">COL5A1</text></g>
<g id="n-VWF" transform="translate(861,1297)"><ellipse class="n" rx="12.5" ry="34"/><text class="t" transform="rotate(-90)" y="4">VWF</text></g>
<g id="n-ITGA7" transform="translate(831,1337)"><ellipse class="n" rx="12.5" ry="34"/><text class="t" transform="rotate(-90)" y="4">ITGA7</text></g>
<g id="n-ITGA8" transform="translate(861,1368)"><ellipse class="n" rx="12.5" ry="34"/><text class="t" transform="rotate(-90)" y="4">ITGA8</text></g>
<g id="n-MET" transform="translate(831,1410)"><ellipse class="n" rx="12.5" ry="34"/><text class="t" transform="rotate(-90)" y="4">MET</text></g>
</g>
</svg>
